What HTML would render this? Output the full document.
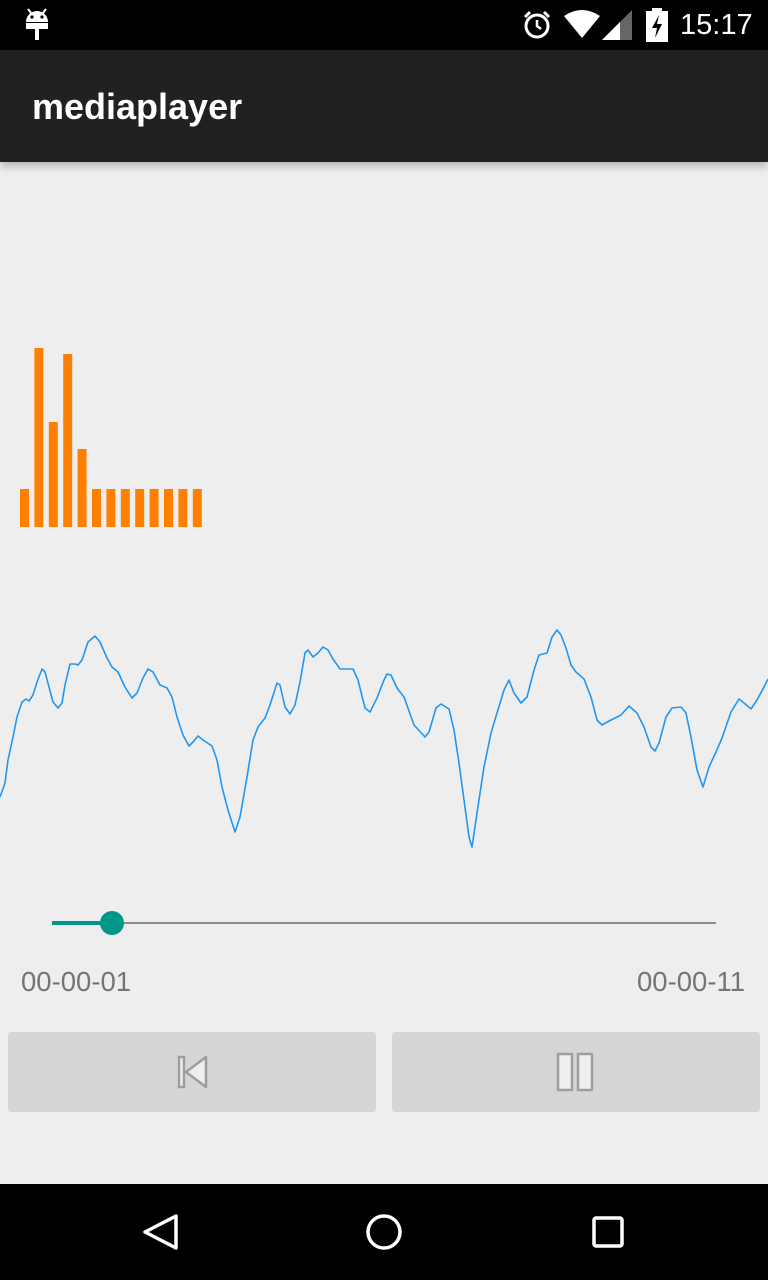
<!DOCTYPE html>
<html><head><meta charset="utf-8"><style>
*{margin:0;padding:0;box-sizing:border-box}
body{width:768px;height:1280px;background:#eeeeee;font-family:"Liberation Sans",sans-serif;position:relative;overflow:hidden}
.abs{position:absolute}
</style></head><body>
<div class="abs" style="left:0;top:0;width:768px;height:50px;background:#000">
  <svg class="abs" style="left:24px;top:8px" width="26" height="34"><path d="M2 14 A11 11 0 0 1 24 14 Z" fill="#fff"/><rect x="2" y="15" width="22" height="6" fill="#fff"/><rect x="11" y="21" width="4" height="11" fill="#fff"/><circle cx="8" cy="9" r="1.6" fill="#000"/><circle cx="18" cy="9" r="1.6" fill="#000"/><line x1="4" y1="1" x2="7" y2="5" stroke="#fff" stroke-width="2"/><line x1="22" y1="1" x2="19" y2="5" stroke="#fff" stroke-width="2"/></svg>
  <svg class="abs" style="left:522px;top:10px" width="30" height="30"><circle cx="15" cy="16" r="11" fill="none" stroke="#fff" stroke-width="3"/><path d="M15 10 V16 L19 19" stroke="#fff" stroke-width="2.5" fill="none"/><path d="M3 7 L8 2 M27 7 L22 2" stroke="#fff" stroke-width="3"/></svg>
  <svg class="abs" style="left:564px;top:10px" width="36" height="30"><path d="M0 6 Q18 -6 36 6 L18 28 Z" fill="#fff"/></svg>
  <svg class="abs" style="left:602px;top:10px" width="30" height="30"><path d="M30 0 V30 H0 Z" fill="#666"/><path d="M0 30 L18 12 V30 Z" fill="#fff"/></svg>
  <svg class="abs" style="left:646px;top:8px" width="22" height="34"><rect x="6" y="0" width="10" height="4" fill="#fff"/><rect x="0" y="3" width="22" height="31" fill="#fff"/><path d="M13 7 L6 20 H11 L9 30 L16 16 H11 Z" fill="#000"/></svg>
  <div class="abs" style="left:680px;top:9px;color:#fff;font-size:29px">15:17</div>
</div>
<div class="abs" style="left:0;top:50px;width:768px;height:112px;background:#212121;box-shadow:0 4px 8px rgba(0,0,0,0.25)">
  <div class="abs" style="left:32px;top:36px;color:#fff;font-size:36px;font-weight:bold">mediaplayer</div>
</div>
<svg class="abs" style="left:0;top:0" width="768" height="900">
  <g id="bars"></g>
  <path id="wave" fill="none" stroke="#2196f3" stroke-width="1.6" stroke-linejoin="round"/>
</svg>
<div class="abs" style="left:52px;top:912px;width:664px;height:24px">
  <div class="abs" style="left:0;top:10px;width:664px;height:2px;background:#8c8c8c"></div>
  <div class="abs" style="left:0;top:9px;width:60px;height:4px;background:#009688"></div>
  <div class="abs" style="left:48px;top:-1px;width:24px;height:24px;border-radius:50%;background:#009688"></div>
</div>
<div class="abs" style="left:21px;top:966px;color:#757575;font-size:27.5px">00-00-01</div>
<div class="abs" style="left:637px;top:966px;color:#757575;font-size:27.5px">00-00-11</div>
<div class="abs" style="left:8px;top:1032px;width:368px;height:80px;background:#d6d6d6;border-radius:3px">
  <svg class="abs" style="left:168px;top:22px" width="36" height="36"><rect x="3" y="3" width="5" height="30" fill="#eee" stroke="#9e9e9e" stroke-width="2.5"/><path d="M10 18 L30 3 V33 Z" fill="#eee" stroke="#9e9e9e" stroke-width="2.5" stroke-linejoin="round"/></svg>
</div>
<div class="abs" style="left:392px;top:1032px;width:368px;height:80px;background:#d6d6d6;border-radius:3px">
  <svg class="abs" style="left:164px;top:20px" width="40" height="40"><rect x="2" y="2" width="14" height="36" fill="#eee" stroke="#9e9e9e" stroke-width="2.5"/><rect x="22" y="2" width="14" height="36" fill="#eee" stroke="#9e9e9e" stroke-width="2.5"/></svg>
</div>
<div class="abs" style="left:0;top:1184px;width:768px;height:96px;background:#000">
  <svg class="abs" style="left:0;top:0" width="768" height="96">
    <path d="M176 32 L145 48 L176 64 Z" fill="none" stroke="#fff" stroke-width="3.5" stroke-linejoin="round"/>
    <circle cx="384" cy="48" r="16" fill="none" stroke="#fff" stroke-width="3.5"/>
    <rect x="594" y="34" width="28" height="28" rx="2" fill="none" stroke="#fff" stroke-width="3.5"/>
  </svg>
</div>
<script>
// Spectrum bar heights (arbitrary magnitude units)
const barValues = [38, 179, 105, 173, 78, 38, 38, 38, 38, 38, 38, 38, 38];
// Waveform samples: time index (0..768) and amplitude
const waveTimes = [0,5,8,13,17,22,26,29,33,37,42,45,49,53,58,62,65,70,75,78,82,88,95,100,107,112,118,125,132,137,143,148,153,160,167,172,177,183,189,193,198,203,212,217,222,228,235,240,247,253,258,265,270,277,280,285,290,295,300,305,308,313,318,323,328,333,340,348,353,358,365,370,377,384,387,391,397,404,414,425,429,436,441,449,454,459,464,469,472,477,484,491,497,504,509,514,521,527,534,539,547,552,557,561,566,571,576,584,591,597,602,611,621,629,637,644,651,655,659,666,672,681,686,691,697,703,709,716,722,731,739,744,751,757,764,768];
const waveAmps = [-57,-43,-20,3,23,38,41,39,45,58,71,68,53,38,32,37,55,76,76,75,80,98,104,98,82,73,68,53,42,47,62,71,68,55,52,43,23,5,-6,-2,4,0,-6,-20,-47,-70,-92,-77,-37,0,13,22,35,57,55,33,26,35,58,87,90,83,87,93,90,81,71,71,71,60,32,28,42,60,66,65,52,43,15,3,8,32,36,31,10,-23,-60,-97,-107,-73,-27,7,27,50,60,47,37,43,70,85,87,103,110,105,92,75,68,61,43,20,15,20,25,34,27,13,-7,-11,-3,23,32,33,27,3,-30,-47,-27,-12,2,28,41,37,31,40,53,61];

const NS='http://www.w3.org/2000/svg';
const barX0=20, barPitch=14.4, barW=9, barBase=527, barScale=1;
const yBar=v=>barBase - v*barScale;
const gb=document.getElementById('bars');
barValues.forEach((v,i)=>{
  const r=document.createElementNS(NS,'rect');
  
  
  r.setAttribute('x',barX0+i*barPitch);
  r.setAttribute('y',yBar(v));
  r.setAttribute('width',barW);
  r.setAttribute('height',barBase-yBar(v));
  r.setAttribute('fill','#ff8000');
  gb.appendChild(r);
});
const xW=t=>t*768/768, yW=a=>740-a;
let d='';
waveTimes.forEach((t,i)=>{d+=(i?'L':'M')+xW(t).toFixed(1)+' '+yW(waveAmps[i]).toFixed(1)+' ';});
document.getElementById('wave').setAttribute('d',d);
</script>
</body></html>
